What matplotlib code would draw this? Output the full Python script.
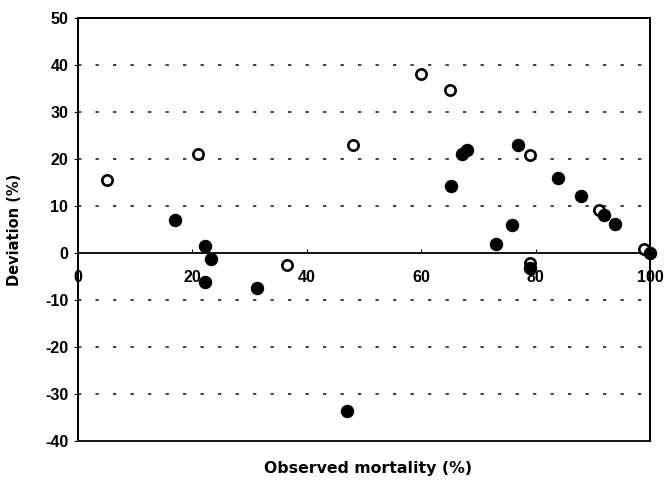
import matplotlib
matplotlib.use("Agg")
import matplotlib.pyplot as plt
from matplotlib.patches import Rectangle

# Data
open_x = [5, 21, 48, 60, 65, 79, 36.5, 79, 91, 99]
open_y = [15.6, 21.1, 23, 38.1, 34.7, 20.9, -2.6, -2.2, 9.1, 0.9]
filled_x = [17, 22.2, 23.3, 22.2, 31.3, 47, 65.2, 67.1, 68, 73.1, 75.9, 76.9, 79, 83.9, 87.9, 92, 93.9, 100]
filled_y = [7.0, 1.5, -1.3, -6.2, -7.4, -33.6, 14.3, 21.1, 21.9, 1.9, 6.0, 23.0, -3.2, 16.0, 12.1, 8.1, 6.2, 0.0]
x_ticks = [0, 20, 40, 60, 80, 100]
y_ticks = [-40, -30, -20, -10, 0, 10, 20, 30, 40, 50]

plt.rcParams['font.family'] = ['Liberation Sans', 'DejaVu Sans']
plt.rcParams['axes.unicode_minus'] = False

fig = plt.figure(figsize=(6.66, 4.84), dpi=100)
ax = fig.add_axes([0.117, 0.089, 0.859, 0.874])
ax.set_xlim(0, 100)
ax.set_ylim(-40, 50)

# dotted gridlines
for yv in y_ticks:
    if yv not in (-40, 0, 50):
        ax.axhline(yv, color='#222222', lw=1.2, ls=(0, (2, 8.5)), zorder=1)

# axis through zero
ax.spines['bottom'].set_position(('data', 0))
ax.spines['bottom'].set_linewidth(1.3)
for s in ['top', 'right', 'left']:
    ax.spines[s].set_linewidth(1.3)
ax.add_patch(Rectangle((0, 0), 1, 1, transform=ax.transAxes, fill=False,
                       lw=1.3, edgecolor='black', zorder=3, clip_on=False))

ax.scatter(open_x, open_y, s=55, facecolors='white', edgecolors='black',
           linewidths=1.9, zorder=4, clip_on=False)
ax.scatter(filled_x, filled_y, s=75, facecolors='black', edgecolors='black',
           linewidths=1, zorder=5, clip_on=False)

ax.set_xticks(x_ticks)
ax.set_yticks(y_ticks)
ax.tick_params(axis='x', direction='in', length=3, pad=12, labelsize=11.5)
ax.tick_params(axis='y', direction='out', length=3, pad=4, labelsize=11.5)
for lab in ax.get_xticklabels() + ax.get_yticklabels():
    lab.set_fontweight('bold')

fig.text(0.022, 0.525, 'Deviation (%)', rotation=90, ha='center', va='center',
         fontsize=10.5, fontweight='bold', family='DejaVu Sans')
fig.text(0.552, 0.033, 'Observed mortality (%)', ha='center', va='center',
         fontsize=11.3, fontweight='bold', family='DejaVu Sans')

fig.savefig('out.png', dpi=100)
